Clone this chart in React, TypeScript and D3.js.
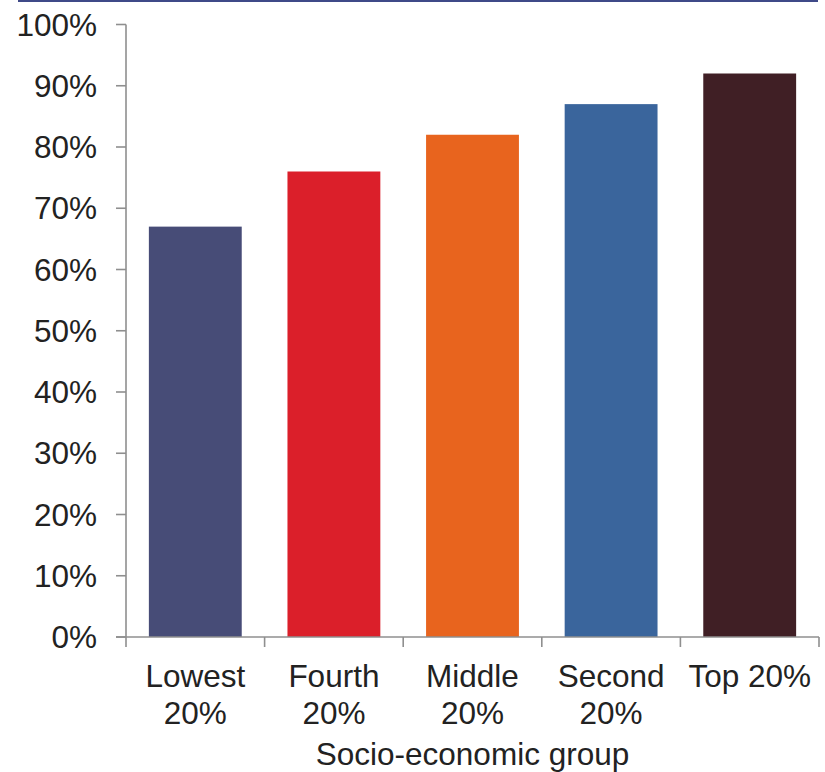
import React from "react";
import * as d3 from "d3";

const categories: string[][] = [
  ["Lowest", "20%"],
  ["Fourth", "20%"],
  ["Middle", "20%"],
  ["Second", "20%"],
  ["Top 20%"],
];
const values: number[] = [67, 76, 82, 87, 92];
const colors: string[] = ["#474c77", "#db1f2a", "#e8641e", "#3a659c", "#401f25"];
const yTicks: number[] = [0, 10, 20, 30, 40, 50, 60, 70, 80, 90, 100];
const xTitle = "Socio-economic group";

export default function App() {
  const W = 825;
  const H = 772;
  const left = 126;
  const right = 819;
  const top = 24.5;
  const bottom = 637;
  const x = d3
    .scaleBand<number>()
    .domain(d3.range(values.length))
    .range([left, right])
    .paddingInner(0.33)
    .paddingOuter(0.165);
  const y = d3.scaleLinear().domain([0, 100]).range([bottom, top]);
  const step = x.step();
  const font = "'Liberation Sans', Arial, sans-serif";
  const axisColor = "#8f8f8f";
  const textColor = "#222";
  const fs = 31.5;
  const boundaries = d3.range(values.length + 1).map((i) => left + i * step);

  return (
    <svg
      width={W}
      height={H}
      style={{ position: "absolute", left: 0, top: 0, display: "block", background: "#fff" }}
    >
      <line x1={18} x2={818} y1={1} y2={1} stroke="#3f4a88" strokeWidth={2} />
      {values.map((v, i) => (
        <rect
          key={i}
          x={x(i)}
          y={y(v)}
          width={x.bandwidth()}
          height={y(0) - y(v)}
          fill={colors[i]}
        />
      ))}
      {/* y axis */}
      <line x1={left} x2={left} y1={y(100)} y2={y(0)} stroke={axisColor} strokeWidth={1.6} />
      {yTicks.map((t) => (
        <g key={t}>
          <line x1={116} x2={left} y1={y(t)} y2={y(t)} stroke={axisColor} strokeWidth={1.6} />
          <text
            x={97}
            y={y(t) + 11}
            textAnchor="end"
            fontFamily={font}
            fontSize={fs}
            fill={textColor}
          >
            {t}%
          </text>
        </g>
      ))}
      {/* x axis */}
      <line x1={116} x2={right} y1={y(0)} y2={y(0)} stroke={axisColor} strokeWidth={1.6} />
      {boundaries.map((b, i) => (
        <line key={i} x1={b} x2={b} y1={y(0)} y2={y(0) + 10} stroke={axisColor} strokeWidth={1.6} />
      ))}
      {categories.map((lines, i) => (
        <text
          key={i}
          x={(x(i) as number) + x.bandwidth() / 2}
          y={687}
          textAnchor="middle"
          fontFamily={font}
          fontSize={fs}
          fill={textColor}
        >
          {lines.map((l, j) => (
            <tspan key={j} x={(x(i) as number) + x.bandwidth() / 2} dy={j === 0 ? 0 : 36.5}>
              {l}
            </tspan>
          ))}
        </text>
      ))}
      <text
        x={(left + right) / 2 + 0}
        y={764.5}
        textAnchor="middle"
        fontFamily={font}
        fontSize={fs}
        fill={textColor}
      >
        {xTitle}
      </text>
    </svg>
  );
}
